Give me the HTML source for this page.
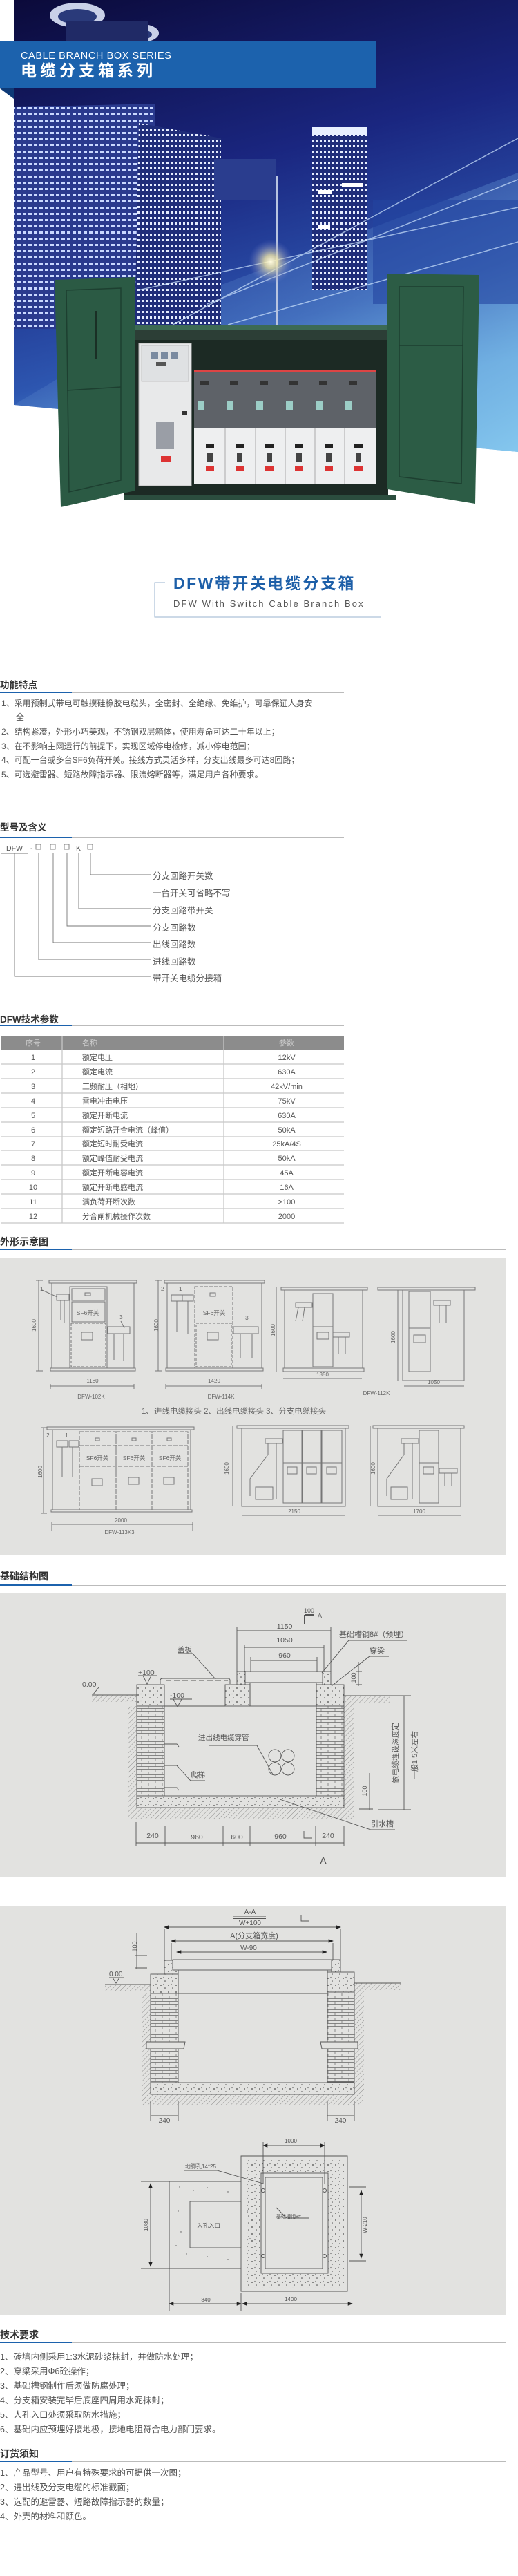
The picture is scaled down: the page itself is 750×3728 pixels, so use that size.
<!DOCTYPE html>
<html><head><meta charset="utf-8">
<style>
html,body{margin:0;padding:0;background:#fff;}
svg{display:block;}
text{font-family:"Liberation Sans","Noto Sans CJK SC",sans-serif;}
</style></head>
<body>
<svg width="750" height="3728" viewBox="0 0 750 3728" xmlns="http://www.w3.org/2000/svg">
<defs>
<linearGradient id="sky" x1="0" y1="0" x2="0.3" y2="1">
<stop offset="0" stop-color="#0b0a3a"/><stop offset="0.45" stop-color="#1a2680"/><stop offset="0.8" stop-color="#2d56b0"/><stop offset="1" stop-color="#5aa3de"/>
</linearGradient>
<linearGradient id="sky2" x1="0" y1="0" x2="1" y2="1">
<stop offset="0" stop-color="#2b47a8" stop-opacity="0"/><stop offset="1" stop-color="#8fd0f2" stop-opacity="0.8"/>
</linearGradient>
<radialGradient id="glow"><stop offset="0" stop-color="#fffbe0"/><stop offset="0.3" stop-color="#f4e9a8" stop-opacity="0.8"/><stop offset="1" stop-color="#6a7ad0" stop-opacity="0"/></radialGradient>
<pattern id="win" width="8" height="9" patternUnits="userSpaceOnUse"><rect width="8" height="9" fill="#2a3a8e"/><rect x="1" y="2" width="5" height="3" fill="#c9d8ff"/></pattern>
<pattern id="win2" width="6" height="8" patternUnits="userSpaceOnUse"><rect width="6" height="8" fill="#1f2d7a"/><rect x="1" y="2" width="3" height="3" fill="#e6edff"/></pattern>
<pattern id="brick" width="20" height="8" patternUnits="userSpaceOnUse"><rect width="20" height="8" fill="#e2e2e0"/><path d="M0 0.5H20M0 4.5H20M5 0.5V4.5M15 4.5V8.5" stroke="#666" stroke-width="0.7" fill="none"/></pattern>
<pattern id="conc" width="11" height="10" patternUnits="userSpaceOnUse"><rect width="11" height="10" fill="#e2e2e0"/><circle cx="2" cy="3" r="0.9" fill="#444"/><circle cx="8" cy="7" r="0.8" fill="#444"/><circle cx="6" cy="1.5" r="0.6" fill="#555"/></pattern>
<pattern id="hatch" width="5" height="5" patternUnits="userSpaceOnUse" patternTransform="rotate(45)"><rect width="5" height="5" fill="#e2e2e0"/><line x1="0" y1="0" x2="0" y2="5" stroke="#777" stroke-width="0.8"/></pattern>
<marker id="ar" markerWidth="8" markerHeight="8" refX="7" refY="4" orient="auto"><path d="M0 1L8 4L0 7Z" fill="#222"/></marker>
<marker id="al" markerWidth="8" markerHeight="8" refX="1" refY="4" orient="auto"><path d="M8 1L0 4L8 7Z" fill="#222"/></marker>
</defs>

<!-- HERO PHOTO -->
<polygon points="20,0 750,0 750,654 20,586" fill="url(#sky)"/>
<polygon points="300,420 750,250 750,654 20,586" fill="url(#sky2)"/>
<!-- round structures top -->
<ellipse cx="112" cy="22" rx="40" ry="18" fill="#c9d0e8"/><ellipse cx="112" cy="24" rx="28" ry="11" fill="#2a3a7a"/>
<ellipse cx="200" cy="48" rx="30" ry="14" fill="#c9d0e8"/><ellipse cx="200" cy="50" rx="20" ry="8" fill="#2a3a7a"/>
<rect x="95" y="30" width="120" height="40" fill="#202a66"/>
<!-- buildings -->
<polygon points="20,155 225,150 215,476 20,476" fill="url(#win)"/>
<polygon points="201,178 320,200 320,470 195,470" fill="url(#win2)"/>
<rect x="310" y="230" width="90" height="60" fill="#2a3d8e"/>
<rect x="452" y="184" width="80" height="235" fill="url(#win2)"/>
<rect x="452" y="184" width="80" height="12" fill="#e8f0ff"/>
<rect x="460" y="275" width="20" height="6" fill="#fff"/><rect x="460" y="325" width="18" height="6" fill="#fff"/><rect x="495" y="265" width="30" height="5" fill="#fff"/>
<rect x="540" y="290" width="210" height="150" fill="#2345a0" opacity="0.6"/>
<g stroke="#cfe6ff" stroke-width="1.5" opacity="0.7">
<line x1="250" y1="470" x2="750" y2="200"/><line x1="300" y1="440" x2="750" y2="260"/><line x1="200" y1="420" x2="750" y2="300"/><line x1="330" y1="470" x2="750" y2="350"/>
</g>
<rect x="400" y="255" width="3" height="215" fill="#b8c4e0"/>
<circle cx="392" cy="379" r="32" fill="url(#glow)"/>

<!-- Banner -->
<rect x="0" y="60" width="544" height="68" fill="#1c62ad"/>
<polygon points="0,128 20,128 20,143" fill="#0e3a77"/>
<text x="30" y="85" font-size="14.5" fill="#fff" letter-spacing="0.6">CABLE BRANCH BOX SERIES</text>
<text x="30" y="110" font-size="23" font-weight="bold" fill="#fff" letter-spacing="5">电缆分支箱系列</text>

<!-- Cabinet -->
<rect x="172" y="470" width="413" height="8" fill="#3c6a55"/>
<rect x="179" y="478" width="383" height="242" fill="#1c2a24"/>
<rect x="179" y="478" width="383" height="14" fill="#2c3e36"/>
<rect x="179" y="716" width="395" height="8" fill="#2b4d3e"/>
<!-- left white panel -->
<rect x="201" y="497" width="76" height="206" fill="#e8e9ea" stroke="#bbb"/>
<rect x="205" y="500" width="68" height="52" fill="#dfe1e3" stroke="#aaa" stroke-width="0.6"/>
<rect x="219" y="510" width="10" height="9" fill="#7a8aa0"/><rect x="233" y="510" width="10" height="9" fill="#7a8aa0"/><rect x="247" y="510" width="10" height="9" fill="#7a8aa0"/>
<rect x="226" y="524" width="14" height="6" fill="#555"/>
<rect x="226" y="610" width="26" height="40" fill="#9a9ea6"/>
<rect x="233" y="660" width="14" height="8" fill="#d33"/>
<rect x="263" y="595" width="8" height="6" fill="#333"/>
<!-- switchgear -->
<rect x="281" y="535" width="263" height="85" fill="#5e6268"/>
<rect x="281" y="535" width="263" height="3" fill="#d44"/>
<rect x="281" y="620" width="263" height="80" fill="#eeeff0"/>
<g fill="#333">
<rect x="290" y="552" width="12" height="5"/><rect x="333" y="552" width="12" height="5"/><rect x="376" y="552" width="12" height="5"/><rect x="419" y="552" width="12" height="5"/><rect x="462" y="552" width="12" height="5"/><rect x="505" y="552" width="12" height="5"/>
</g>
<g fill="#9ccdc6"><rect x="286" y="580" width="10" height="13"/><rect x="328" y="580" width="10" height="13"/><rect x="371" y="580" width="10" height="13"/><rect x="414" y="580" width="10" height="13"/><rect x="457" y="580" width="10" height="13"/><rect x="500" y="580" width="10" height="13"/></g>
<g stroke="#999" stroke-width="0.8"><line x1="326" y1="620" x2="326" y2="700"/><line x1="370" y1="620" x2="370" y2="700"/><line x1="413" y1="620" x2="413" y2="700"/><line x1="456" y1="620" x2="456" y2="700"/><line x1="499" y1="620" x2="499" y2="700"/></g>
<g fill="#222"><rect x="298" y="643" width="12" height="6"/><rect x="341" y="643" width="12" height="6"/><rect x="384" y="643" width="12" height="6"/><rect x="427" y="643" width="12" height="6"/><rect x="470" y="643" width="12" height="6"/><rect x="513" y="643" width="12" height="6"/></g>
<g fill="#444"><rect x="300" y="655" width="8" height="14"/><rect x="343" y="655" width="8" height="14"/><rect x="386" y="655" width="8" height="14"/><rect x="429" y="655" width="8" height="14"/><rect x="472" y="655" width="8" height="14"/><rect x="515" y="655" width="8" height="14"/></g>
<g fill="#d33"><rect x="298" y="675" width="12" height="6"/><rect x="341" y="675" width="12" height="6"/><rect x="384" y="675" width="12" height="6"/><rect x="427" y="675" width="12" height="6"/><rect x="470" y="675" width="12" height="6"/><rect x="513" y="675" width="12" height="6"/></g>
<!-- doors -->
<polygon points="79,405 196,401 196,710 88,734" fill="#2b5a44"/>
<polygon points="96,420 175,417 175,695 100,712" fill="none" stroke="#1d3f30" stroke-width="1.5"/>
<line x1="97" y1="565" x2="175" y2="560" stroke="#1d3f30" stroke-width="1.5"/>
<rect x="137" y="450" width="3" height="70" fill="#1a2f25"/>
<polygon points="561,396 694,398 688,729 561,708" fill="#2c5c45"/>
<polygon points="578,415 671,415 668,700 578,690" fill="none" stroke="#1d3f30" stroke-width="1.5"/>
<line x1="578" y1="500" x2="670" y2="500" stroke="#1d3f30" stroke-width="1.5"/>

<!-- Product title -->
<text x="251" y="852" font-size="23" font-weight="bold" fill="#1d5fa8" letter-spacing="2.5">DFW带开关电缆分支箱</text>
<text x="251" y="878" font-size="13" fill="#555" letter-spacing="2.1">DFW With Switch Cable Branch Box</text>
<path d="M239 843H224V893H552" fill="none" stroke="#9ab3cf" stroke-width="1"/>

<!-- 功能特点 -->
<g font-size="12" fill="#555">
<text x="0" y="996" font-size="13.5" font-weight="bold" fill="#333">功能特点</text>
<rect x="0" y="1001" width="104" height="2" fill="#1c62ad"/><rect x="104" y="1002" width="394" height="1" fill="#bbb"/>
<text x="2" y="1022">1、采用预制式带电可触摸硅橡胶电缆头，全密封、全绝缘、免维护，可靠保证人身安</text>
<text x="23" y="1042">全</text>
<text x="2" y="1063">2、结构紧凑，外形小巧美观，不锈钢双层箱体，使用寿命可达二十年以上；</text>
<text x="2" y="1084">3、在不影响主网运行的前提下，实现区域停电检修，减小停电范围；</text>
<text x="2" y="1104">4、可配一台或多台SF6负荷开关。接线方式灵活多样，分支出线最多可达8回路；</text>
<text x="2" y="1125">5、可选避雷器、短路故障指示器、限流熔断器等，满足用户各种要求。</text>
</g>

<!-- 型号及含义 -->
<text x="0" y="1202" font-size="13.5" font-weight="bold" fill="#333">型号及含义</text>
<rect x="0" y="1211" width="104" height="2" fill="#1c62ad"/><rect x="104" y="1212" width="394" height="1" fill="#bbb"/>
<g font-size="10.5" fill="#555"><text x="9" y="1231">DFW</text><text x="44" y="1231">-</text><text x="110" y="1231">K</text></g>
<g fill="none" stroke="#777" stroke-width="0.9">
<rect x="52" y="1222" width="7" height="7"/><rect x="73" y="1222" width="7" height="7"/><rect x="93" y="1222" width="7" height="7"/><rect x="127" y="1222" width="7" height="7"/>
<line x1="2" y1="1235" x2="41" y2="1235"/>
<path d="M131 1235V1266H218M114 1235V1315H218M97 1235V1340H218M77 1235V1364H218M56 1235V1389H218M21 1235V1413H218"/>
</g>
<g font-size="12.5" fill="#555">
<text x="221" y="1272">分支回路开关数</text><text x="221" y="1297">一台开关可省略不写</text><text x="221" y="1322">分支回路带开关</text><text x="221" y="1347">分支回路数</text><text x="221" y="1371">出线回路数</text><text x="221" y="1396">进线回路数</text><text x="221" y="1420">带开关电缆分接箱</text>
</g>

<!-- 技术参数 -->
<text x="0" y="1480" font-size="13.5" font-weight="bold" fill="#333">DFW技术参数</text>
<rect x="0" y="1483" width="104" height="2" fill="#1c62ad"/><rect x="104" y="1484" width="394" height="1" fill="#bbb"/>
<rect x="2" y="1499" width="496" height="20" fill="#8c8c8c"/>
<g font-size="11" fill="#cfcfcf"><text x="48" y="1513" text-anchor="middle">序号</text><text x="119" y="1513">名称</text><text x="415" y="1513" text-anchor="middle">参数</text></g>
<g stroke="#c8c8c8" stroke-width="1.3">
<line x1="2" y1="1540" x2="498" y2="1540"/><line x1="2" y1="1561" x2="498" y2="1561"/><line x1="2" y1="1582" x2="498" y2="1582"/><line x1="2" y1="1603" x2="498" y2="1603"/><line x1="2" y1="1624" x2="498" y2="1624"/><line x1="2" y1="1645" x2="498" y2="1645"/><line x1="2" y1="1665" x2="498" y2="1665"/><line x1="2" y1="1686" x2="498" y2="1686"/><line x1="2" y1="1707" x2="498" y2="1707"/><line x1="2" y1="1728" x2="498" y2="1728"/><line x1="2" y1="1749" x2="498" y2="1749"/><line x1="2" y1="1770" x2="498" y2="1770"/>
<line x1="90" y1="1499" x2="90" y2="1770"/><line x1="324" y1="1499" x2="324" y2="1770"/>
</g>
<g font-size="11" fill="#555">
<g text-anchor="middle">
<text x="48" y="1534">1</text><text x="48" y="1555">2</text><text x="48" y="1576">3</text><text x="48" y="1597">4</text><text x="48" y="1618">5</text><text x="48" y="1639">6</text><text x="48" y="1659">7</text><text x="48" y="1680">8</text><text x="48" y="1701">9</text><text x="48" y="1722">10</text><text x="48" y="1743">11</text><text x="48" y="1764">12</text>
<text x="415" y="1534">12kV</text><text x="415" y="1555">630A</text><text x="415" y="1576">42kV/min</text><text x="415" y="1597">75kV</text><text x="415" y="1618">630A</text><text x="415" y="1639">50kA</text><text x="415" y="1659">25kA/4S</text><text x="415" y="1680">50kA</text><text x="415" y="1701">45A</text><text x="415" y="1722">16A</text><text x="415" y="1743">&gt;100</text><text x="415" y="1764">2000</text>
</g>
<text x="119" y="1534">额定电压</text><text x="119" y="1555">额定电流</text><text x="119" y="1576">工频耐压（相地）</text><text x="119" y="1597">雷电冲击电压</text><text x="119" y="1618">额定开断电流</text><text x="119" y="1639">额定短路开合电流（峰值）</text><text x="119" y="1659">额定短时耐受电流</text><text x="119" y="1680">额定峰值耐受电流</text><text x="119" y="1701">额定开断电容电流</text><text x="119" y="1722">额定开断电感电流</text><text x="119" y="1743">满负荷开断次数</text><text x="119" y="1764">分合闸机械操作次数</text>
</g>

<!-- 外形示意图 -->
<text x="0" y="1802" font-size="14" font-weight="bold" fill="#333">外形示意图</text>
<rect x="0" y="1807" width="104" height="2" fill="#1c62ad"/><rect x="104" y="1808" width="628" height="1" fill="#bbb"/>
<rect x="0" y="1820" width="732" height="431" fill="#e2e2e0"/>
<g fill="none" stroke="#777" stroke-width="1">
<!-- DFW-102K -->
<path d="M71 1853H198V1857H71Z"/><rect x="75" y="1857" width="119" height="123"/><rect x="73" y="1980" width="123" height="4"/>
<path d="M52 1853H62M56 1853V1984M52 1984H62"/>
<rect x="101" y="1862" width="54" height="118"/><rect x="104" y="1865" width="48" height="17"/><rect x="123" y="1871" width="8" height="4"/>
<rect x="104" y="1884" width="48" height="29"/>
<rect x="103" y="1915" width="50" height="63" stroke-dasharray="4,2"/><rect x="118" y="1928" width="16" height="11"/>
<rect x="82" y="1873" width="18" height="9"/><path d="M88 1882V1910M93 1882V1915"/><path d="M61 1867L83 1877"/>
<rect x="156" y="1920" width="32" height="10"/><path d="M165 1930V1968M179 1930V1970M175 1912L180 1922"/>
<path d="M73 2003V2010M194 2003V2010M73 2006H194"/>
<!-- DFW-114K -->
<path d="M238 1853H383V1857H238Z"/><rect x="242" y="1857" width="137" height="123"/><rect x="240" y="1980" width="141" height="4"/>
<path d="M225 1853H235M229 1853V1984M225 1984H235"/>
<rect x="282" y="1862" width="55" height="118" stroke-dasharray="5,2"/><rect x="304" y="1871" width="8" height="5"/>
<rect x="284" y="1915" width="51" height="63" stroke-dasharray="4,2"/><rect x="300" y="1928" width="16" height="11"/>
<rect x="248" y="1874" width="16" height="9"/><rect x="264" y="1874" width="16" height="9"/><path d="M256 1883V1928M272 1883V1930"/>
<rect x="338" y="1920" width="36" height="10"/><path d="M348 1930V1965M365 1930V1966"/>
<path d="M240 2003V2010M379 2003V2010M240 2006H379"/>
<!-- 1350 -->
<rect x="407" y="1863" width="125" height="4"/><rect x="412" y="1867" width="113" height="113"/><rect x="410" y="1980" width="117" height="5"/>
<rect x="453" y="1872" width="29" height="106"/><line x1="453" y1="1920" x2="482" y2="1920"/><rect x="459" y="1928" width="17" height="10"/>
<rect x="428" y="1885" width="24" height="7"/><path d="M432 1892L428 1912M441 1892L438 1912"/>
<rect x="482" y="1928" width="24" height="7"/><path d="M490 1935V1960M500 1935V1960"/>
<path d="M400 1863V1985M410 1995H524"/>
<!-- 1050 -->
<path d="M547 1863H688V1867H547Z"/><rect x="583" y="1867" width="89" height="131"/><rect x="592" y="1869" width="31" height="116"/><line x1="592" y1="1922" x2="623" y2="1922"/><rect x="599" y="1932" width="17" height="11"/>
<rect x="628" y="1882" width="24" height="7"/><path d="M636 1889V1915M646 1889V1915"/>
<path d="M576 1867V1998M585 2006H672"/>
<!-- DFW-113K3 -->
<path d="M68 2065H281V2069H68Z"/><rect x="76" y="2069" width="200" height="116"/><rect x="74" y="2185" width="204" height="3"/>
<path d="M60 2066H68M63 2066V2190M60 2190H68"/>
<rect x="115" y="2072" width="53" height="113" stroke-dasharray="6,2"/><rect x="168" y="2072" width="52" height="113" stroke-dasharray="6,2"/><rect x="220" y="2072" width="52" height="113" stroke-dasharray="6,2"/>
<path d="M115 2092H272M115 2122H272" stroke-dasharray="6,2"/>
<rect x="133" y="2140" width="15" height="10"/><rect x="186" y="2138" width="15" height="10"/><rect x="237" y="2138" width="15" height="10"/>
<rect x="138" y="2081" width="6" height="4"/><rect x="191" y="2081" width="6" height="4"/><rect x="242" y="2081" width="6" height="4"/>
<rect x="82" y="2085" width="16" height="9"/><rect x="100" y="2085" width="14" height="9"/><path d="M90 2094V2138M105 2094V2138"/>
<path d="M75 2202V2215M279 2202V2215M75 2206H279"/>
<!-- 2150 -->
<path d="M343 2063H505V2067H343Z"/><rect x="350" y="2067" width="150" height="113"/><line x1="350" y1="2180" x2="500" y2="2180"/>
<rect x="410" y="2070" width="27" height="105"/><rect x="438" y="2070" width="27" height="105"/><rect x="466" y="2070" width="29" height="105"/>
<path d="M410 2117H495"/><rect x="416" y="2123" width="14" height="10"/><rect x="444" y="2123" width="14" height="10"/><rect x="473" y="2123" width="14" height="10"/>
<rect x="384" y="2082" width="25" height="7"/><path d="M388 2089V2105L362 2140V2165M400 2089V2170"/><rect x="370" y="2152" width="25" height="18"/>
<path d="M337 2063V2180M350 2193H500"/>
<!-- 1700 -->
<path d="M540 2063H672V2067H540Z"/><rect x="547" y="2067" width="120" height="113"/><line x1="547" y1="2180" x2="667" y2="2180"/>
<rect x="607" y="2070" width="28" height="105"/><line x1="607" y1="2117" x2="635" y2="2117"/><rect x="613" y="2123" width="15" height="10"/>
<rect x="581" y="2082" width="25" height="7"/><path d="M585 2089V2105L560 2140V2165M597 2089V2170"/><rect x="566" y="2152" width="24" height="18"/>
<rect x="636" y="2125" width="26" height="7"/><path d="M644 2132V2150M654 2132V2150"/>
<path d="M536 2063V2180M547 2193H667"/>
</g>
<g font-size="8.5" fill="#666">
<text x="127" y="1903" text-anchor="middle">SF6开关</text><text x="310" y="1903" text-anchor="middle">SF6开关</text>
<text x="141" y="2113" text-anchor="middle">SF6开关</text><text x="194" y="2113" text-anchor="middle">SF6开关</text><text x="246" y="2113" text-anchor="middle">SF6开关</text>
<text x="58" y="1868">1</text><text x="173" y="1909">3</text><text x="233" y="1868">2</text><text x="259" y="1868">1</text><text x="355" y="1910">3</text><text x="67" y="2080">2</text><text x="94" y="2080">1</text>
</g>
<g font-size="8" fill="#666" text-anchor="middle">
<text x="134" y="2001">1180</text><text x="310" y="2001">1420</text><text x="467" y="1992">1350</text><text x="628" y="2003">1050</text>
<text x="175" y="2203">2000</text><text x="426" y="2190">2150</text><text x="607" y="2190">1700</text>
<text x="132" y="2024">DFW-102K</text><text x="320" y="2024">DFW-114K</text><text x="545" y="2019">DFW-112K</text><text x="173" y="2220">DFW-113K3</text>
<text transform="translate(52,1918) rotate(-90)">1600</text><text transform="translate(229,1918) rotate(-90)">1600</text><text transform="translate(398,1925) rotate(-90)">1600</text><text transform="translate(572,1935) rotate(-90)">1600</text>
<text transform="translate(61,2130) rotate(-90)">1600</text><text transform="translate(331,2125) rotate(-90)">1600</text><text transform="translate(543,2125) rotate(-90)">1600</text>
</g>
<text x="205" y="2046" font-size="11.5" fill="#666">1、进线电缆接头  2、出线电缆接头  3、分支电缆接头</text>

<!-- 基础结构图 -->
<text x="0" y="2286" font-size="14" font-weight="bold" fill="#333">基础结构图</text>
<rect x="0" y="2293" width="104" height="2" fill="#1c62ad"/><rect x="104" y="2294" width="628" height="1" fill="#bbb"/>
<rect x="0" y="2306" width="732" height="410" fill="#e2e2e0"/>
<g stroke="#555" stroke-width="0.9">
<rect x="133" y="2453" width="65" height="10" fill="url(#hatch)" stroke="none"/>
<rect x="185" y="2469" width="13" height="163" fill="url(#hatch)" stroke="none"/>
<rect x="185" y="2616" width="327" height="16" fill="url(#hatch)" stroke="none"/>
<rect x="498" y="2454" width="67" height="10" fill="url(#hatch)" stroke="none"/>
<rect x="498" y="2464" width="14" height="152" fill="url(#hatch)" stroke="none"/>
<line x1="133" y1="2453" x2="198" y2="2453"/><line x1="498" y1="2454" x2="565" y2="2454"/>
<rect x="198" y="2438" width="40" height="31" fill="url(#conc)"/>
<rect x="198" y="2469" width="40" height="130" fill="url(#brick)"/>
<rect x="458" y="2438" width="40" height="31" fill="url(#conc)"/>
<rect x="458" y="2469" width="40" height="130" fill="url(#brick)"/>
<rect x="198" y="2599" width="300" height="17" fill="url(#conc)"/>
<rect x="326" y="2438" width="36" height="31" fill="url(#conc)"/>
<rect x="343" y="2419" width="12" height="19" fill="url(#conc)"/>
<rect x="467" y="2419" width="12" height="19" fill="url(#conc)"/>
<rect x="355" y="2419" width="112" height="16" fill="#e2e2e0"/>
<rect x="362" y="2435" width="96" height="34" fill="none"/>
<line x1="238" y1="2469" x2="326" y2="2469"/>
<path d="M232 2437V2432Q232 2429 236 2429H330Q333 2429 333 2432V2437" fill="none"/>
<path d="M240 2432H330" fill="none" stroke-dasharray="8,4"/>
<path d="M238 2524H256L259 2528M238 2555H256L259 2559M238 2587H256L259 2591" fill="none"/>
<circle cx="398" cy="2541" r="9" fill="none"/><circle cx="417" cy="2541" r="9" fill="none"/><circle cx="398" cy="2560" r="9" fill="none"/><circle cx="417" cy="2560" r="9" fill="none"/>
<path d="M303 2526H372L395 2568" fill="none"/>
<path d="M256 2555L276 2577H297" fill="none"/>
<path d="M257 2393H279L312 2430" fill="none"/>
<path d="M134 2453L143 2442" fill="none"/>
<path d="M200 2425H228M207 2425L213 2437L219 2425" fill="none"/>
<path d="M246 2459H278M251 2459L257 2470L263 2459" fill="none"/>
<path d="M343 2355V2420M479 2355V2420M343 2360H479M354 2380V2420M469 2380V2420M354 2384H469M363 2398V2420M459 2398V2420M363 2403H459" fill="none"/>
<path d="M441 2337V2350M441 2337H455" fill="none" stroke-width="2"/>
<path d="M466 2421L505 2374H590" fill="none"/>
<path d="M480 2440L535 2397H563" fill="none"/>
<path d="M515 2419H524M515 2438H524M519 2405V2440" fill="none"/>
<path d="M520 2618H540M535 2566V2620" fill="none"/>
<path d="M548 2454H595M548 2619H595M585 2454V2619" fill="none"/>
<path d="M405 2604L537 2648H572" fill="none"/>
<path d="M197 2637V2672M239 2642V2672M323 2642V2672M362 2642V2672M457 2642V2672M498 2642V2672M197 2667H498" fill="none"/>
<path d="M440 2650V2660H452" fill="none"/>
</g>
<g font-size="10.5" fill="#555">
<text x="119" y="2441">0.00</text><text x="200" y="2424">+100</text><text x="246" y="2457">-100</text>
<text x="257" y="2391">盖板</text><text x="287" y="2518">进出线电缆穿管</text><text x="276" y="2572">爬梯</text>
<text x="412" y="2357" text-anchor="middle">1150</text><text x="412" y="2377" text-anchor="middle">1050</text><text x="412" y="2399" text-anchor="middle">960</text>
<text x="440" y="2334" font-size="9">100</text><text x="460" y="2341" font-size="9">A</text>
<text x="491" y="2369" font-size="11">基础槽钢8#（预埋）</text><text x="535" y="2393" font-size="11">穿梁</text>
<text x="537" y="2643" font-size="11">引水槽</text>
<text x="221" y="2660" text-anchor="middle">240</text><text x="285" y="2662" text-anchor="middle">960</text><text x="343" y="2662" text-anchor="middle">600</text><text x="406" y="2661" text-anchor="middle">960</text><text x="475" y="2660" text-anchor="middle">240</text>
<text x="463" y="2698" font-size="15">A</text>
<text transform="translate(515,2428) rotate(-90)" font-size="9" text-anchor="middle">100</text>
<text transform="translate(531,2592) rotate(-90)" font-size="9" text-anchor="middle">100</text>
<text transform="translate(576,2537) rotate(-90)" font-size="11" text-anchor="middle">依电缆埋设深度定</text>
<text transform="translate(604,2540) rotate(-90)" font-size="11" text-anchor="middle">一般1.5米左右</text>
</g>

<!-- Panel 3 -->
<rect x="0" y="2758" width="732" height="592" fill="#e2e2e0"/>
<g stroke="#555" stroke-width="0.9">
<rect x="152" y="2872" width="66" height="10" fill="url(#hatch)" stroke="none"/>
<rect x="205" y="2885" width="13" height="160" fill="url(#hatch)" stroke="none"/>
<rect x="205" y="3031" width="320" height="15" fill="url(#hatch)" stroke="none"/>
<rect x="513" y="2870" width="67" height="10" fill="url(#hatch)" stroke="none"/>
<rect x="513" y="2880" width="14" height="150" fill="url(#hatch)" stroke="none"/>
<line x1="152" y1="2872" x2="218" y2="2872"/><line x1="513" y1="2870" x2="580" y2="2870"/>
<rect x="238" y="2837" width="20" height="20" fill="url(#conc)"/>
<rect x="218" y="2857" width="40" height="28" fill="url(#conc)"/>
<rect x="218" y="2885" width="40" height="129" fill="url(#brick)"/>
<rect x="480" y="2836" width="13" height="18" fill="url(#conc)"/>
<rect x="474" y="2854" width="39" height="29" fill="url(#conc)"/>
<rect x="474" y="2883" width="39" height="130" fill="url(#brick)"/>
<rect x="218" y="3014" width="295" height="17" fill="url(#conc)"/>
<rect x="250" y="2836" width="230" height="15" fill="#e2e2e0"/>
<line x1="258" y1="2885" x2="474" y2="2885"/><line x1="258" y1="2851" x2="258" y2="2885"/><line x1="474" y1="2851" x2="474" y2="2854"/>
<path d="M212 2955H268L266 2965H212Z M464 2955H518V2965H466Z" fill="#e2e2e0"/>
<path d="M238 2792V2836M493 2792V2836M248 2812V2836M482 2812V2836" fill="none"/>
<line x1="238" y1="2789" x2="493" y2="2789" marker-start="url(#al)" marker-end="url(#ar)"/>
<line x1="248" y1="2809" x2="482" y2="2809" marker-start="url(#al)" marker-end="url(#ar)"/>
<line x1="256" y1="2825" x2="473" y2="2825" marker-start="url(#al)" marker-end="url(#ar)"/>
<path d="M337 2774H385M337 2776.5H385" fill="none"/>
<path d="M436 2772V2780H448" fill="none"/>
<path d="M198 2797V2850M196 2830H213M196 2848H213" fill="none"/>
<path d="M158 2862H180M163 2862L168 2870L173 2862" fill="none"/>
<path d="M218 3040V3070M258 3040V3070M218 3062H258M474 3040V3070M513 3040V3070M474 3062H513" fill="none"/>
<!-- plan -->
<path d="M204 3157H349V3120H503V3316H349V3283H204" fill="none"/>
<rect x="245" y="3157" width="104" height="126" fill="none"/>
<path d="M251 3170H343V3270H251Z M275 3186V3253H349" fill="none" stroke="#e2e2e0" stroke-width="0"/>
<rect x="275" y="3186" width="74" height="67" fill="none"/>
<rect x="355" y="3125" width="143" height="186" fill="url(#conc)" stroke="none"/>
<rect x="378" y="3145" width="97" height="145" fill="#e2e2e0"/>
<rect x="384" y="3151" width="83" height="132" fill="none"/>
<line x1="381" y1="3105" x2="470" y2="3105" marker-start="url(#al)" marker-end="url(#ar)"/>
<path d="M381 3100V3160M470 3100V3160" fill="none"/>
<path d="M267 3141H314L381 3160" fill="none"/>
<path d="M400 3195L415 3210H448" fill="none"/>
<line x1="523" y1="3170" x2="523" y2="3268" marker-start="url(#al)" marker-end="url(#ar)"/>
<path d="M505 3165H530M505 3272H530" fill="none"/>
<line x1="218" y1="3160" x2="218" y2="3280" marker-start="url(#al)" marker-end="url(#ar)"/>
<line x1="245" y1="3157" x2="245" y2="3345"/><line x1="349" y1="3318" x2="349" y2="3345"/>
<line x1="245" y1="3334" x2="349" y2="3334" marker-start="url(#al)" marker-end="url(#ar)"/>
<line x1="351" y1="3334" x2="510" y2="3334" marker-start="url(#al)" marker-end="url(#ar)"/>
</g>
<g fill="#555">
<circle cx="381" cy="3170" r="2.5" fill="none" stroke="#555"/><circle cx="470" cy="3170" r="2.5" fill="none" stroke="#555"/><circle cx="381" cy="3265" r="2.5" fill="none" stroke="#555"/><circle cx="470" cy="3265" r="2.5" fill="none" stroke="#555"/>
<g font-size="8.5" fill="#555">
<circle cx="260" cy="3165" r="0.7"/><circle cx="280" cy="3170" r="0.7"/><circle cx="300" cy="3166" r="0.7"/><circle cx="330" cy="3172" r="0.7"/><circle cx="258" cy="3200" r="0.7"/><circle cx="262" cy="3230" r="0.7"/><circle cx="270" cy="3262" r="0.7"/><circle cx="300" cy="3266" r="0.7"/><circle cx="330" cy="3270" r="0.7"/><circle cx="358" cy="3200" r="0.7"/><circle cx="362" cy="3240" r="0.7"/><circle cx="255" cy="3250" r="0.7"/>
</g>
</g>
<g font-size="10" fill="#555">
<text x="362" y="2770" text-anchor="middle">A-A</text><text x="362" y="2786" text-anchor="middle">W+100</text>
<text x="368" y="2805" text-anchor="middle" font-size="11">A(分支箱宽度)</text>
<text x="360" y="2822" text-anchor="middle">W-90</text>
<text x="158" y="2860">0.00</text>
<text transform="translate(198,2817) rotate(-90)" text-anchor="middle" font-size="9">100</text>
<text x="238" y="3072" text-anchor="middle">240</text><text x="493" y="3072" text-anchor="middle">240</text>
<text x="421" y="3101" text-anchor="middle" font-size="8">1000</text>
<text x="268" y="3138" font-size="8">地脚孔14*25</text>
<text x="400" y="3210" font-size="7">基础槽钢8#</text>
<text x="302" y="3224" text-anchor="middle" font-size="8.5">入孔入口</text>
<text transform="translate(531,3220) rotate(-90)" text-anchor="middle" font-size="8">W-210</text>
<text transform="translate(214,3220) rotate(-90)" text-anchor="middle" font-size="8">1080</text>
<text x="298" y="3331" text-anchor="middle" font-size="8">840</text><text x="421" y="3330" text-anchor="middle" font-size="8">1400</text>
</g>

<!-- 技术要求 -->
<text x="0" y="3384" font-size="14" font-weight="bold" fill="#333">技术要求</text>
<rect x="0" y="3389" width="104" height="2" fill="#1c62ad"/><rect x="104" y="3390" width="628" height="1" fill="#bbb"/>
<g font-size="12.5" fill="#555">
<text x="0" y="3415">1、砖墙内侧采用1:3水泥砂浆抹封，并做防水处理；</text>
<text x="0" y="3436">2、穿梁采用Φ6砼操作；</text>
<text x="0" y="3457">3、基础槽钢制作后须做防腐处理；</text>
<text x="0" y="3478">4、分支箱安装完毕后底座四周用水泥抹封；</text>
<text x="0" y="3499">5、人孔入口处须采取防水措施；</text>
<text x="0" y="3520">6、基础内应预埋好接地极，接地电阻符合电力部门要求。</text>
</g>
<text x="0" y="3556" font-size="14" font-weight="bold" fill="#333">订货须知</text>
<rect x="0" y="3561" width="104" height="2" fill="#1c62ad"/><rect x="104" y="3562" width="628" height="1" fill="#bbb"/>
<g font-size="12.5" fill="#555">
<text x="0" y="3583">1、产品型号、用户有特殊要求的可提供一次图；</text>
<text x="0" y="3604">2、进出线及分支电缆的标准截面；</text>
<text x="0" y="3625">3、选配的避雷器、短路故障指示器的数量；</text>
<text x="0" y="3646">4、外壳的材料和颜色。</text>
</g>
</svg>
</body></html>
